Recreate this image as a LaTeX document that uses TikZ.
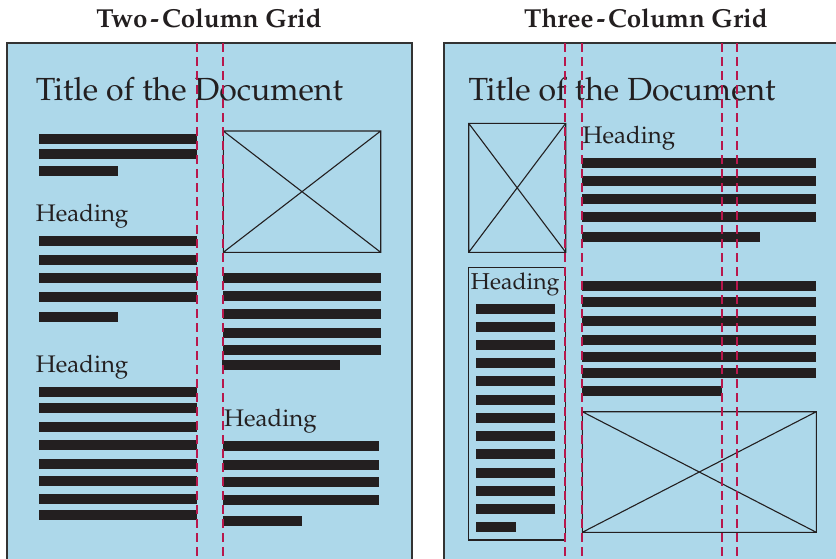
\documentclass[tikz,border=0pt]{standalone}
\usepackage[T1]{fontenc}
\usepackage{mathpazo}
\usepackage{tikz}
\definecolor{gridblue}{HTML}{ADD8EA}
\definecolor{inkdark}{HTML}{231F20}
\definecolor{guidered}{HTML}{B8174C}

\begin{document}
\begin{tikzpicture}[x=1pt, y=-1pt,
    panel/.style={draw=black!80, line width=1.4pt, fill=gridblue},
    txtbar/.style={fill=inkdark},
    imgbox/.style={draw=inkdark, line width=1.1pt},
    guide/.style={draw=guidered, line width=1.8pt, dash pattern=on 8.5pt off 5.5pt},
    hdr/.style={font=\fontsize{26}{30}\selectfont\bfseries, text=inkdark, inner sep=0pt, anchor=base},
    doctitle/.style={font=\fontsize{32}{38}\selectfont, text=inkdark, inner sep=0pt, anchor=base west},
    subhead/.style={font=\fontsize{24}{28}\selectfont, text=inkdark, inner sep=0pt, anchor=base west}
]
\useasboundingbox (0,0) rectangle (836,558);
\clip (0,0) rectangle (836,558);

% column headers
\node[hdr] (twohdr) at (209,27.3) {Two\kern3pt-\kern3pt Column Grid};
\node[hdr] (threehdr) at (646,27.3) {Three\kern3pt-\kern3pt Column Grid};

% two-column page
\path[panel] (7,43) rectangle (412,570);
\node[doctitle] (twotitle) at (35.7,100) {Title of the Document};
\foreach \y in {134,149} \fill[txtbar] (39,\y) rectangle +(158,10);
\fill[txtbar] (39,166) rectangle +(79,10);
\node[subhead] (twohead1) at (35.7,221.7) {Heading};
\foreach \y in {236,255,273,292} \fill[txtbar] (39,\y) rectangle +(158,10);
\fill[txtbar] (39,312) rectangle +(79,10);
\node[subhead] (twohead2) at (35.7,372.3) {Heading};
\foreach \y in {387,403,422,440,459,476,494,510} \fill[txtbar] (39,\y) rectangle +(158,10);
% right column
\draw[imgbox] (223.3,131) rectangle (380.7,252.3)
    (223.3,131) -- (380.7,252.3) (223.3,252.3) -- (380.7,131);
\foreach \y in {273,291,309,328,345} \fill[txtbar] (223,\y) rectangle +(158,10);
\fill[txtbar] (222,360) rectangle +(118,10);
\node[subhead] (twohead3) at (224,426.7) {Heading};
\foreach \y in {441,460,477,495} \fill[txtbar] (223,\y) rectangle +(156,10);
\fill[txtbar] (223,516) rectangle +(79,10);
\foreach \x in {197,223} \draw[guide] (\x,43) -- (\x,570);

% three-column page
\path[panel] (444,43) rectangle (850,570);
\node[doctitle] (threetitle) at (468.3,100) {Title of the Document};
\draw[imgbox] (468.7,123.3) rectangle (565.7,252.3)
    (468.7,123.3) -- (565.7,252.3) (468.7,252.3) -- (565.7,123.3);
\draw[imgbox] (468.7,267.7) rectangle (565.7,540);
\node[subhead, font=\fontsize{23}{26}\selectfont] (sidehead) at (470.7,289.3) {Heading};
\foreach \y in {304,322,340,358,376,395,413,431,449,468,486,504} \fill[txtbar] (476,\y) rectangle +(79,10);
\fill[txtbar] (476,522) rectangle +(40,10);
\node[subhead] (threehead) at (582.5,143.3) {Heading};
\foreach \y in {158,176,194,212} \fill[txtbar] (582,\y) rectangle +(234,10);
\fill[txtbar] (582,232) rectangle +(178,10);
\foreach \y in {281,297,316,335,352,368} \fill[txtbar] (582,\y) rectangle +(234,10);
\fill[txtbar] (582,386) rectangle +(140,10);
\draw[imgbox] (582.3,411.7) rectangle (816.3,532.3)
    (582.3,411.7) -- (816.3,532.3) (582.3,532.3) -- (816.3,411.7);
\foreach \x in {565,582,722,737} \draw[guide] (\x,43) -- (\x,570);
\end{tikzpicture}
\end{document}
